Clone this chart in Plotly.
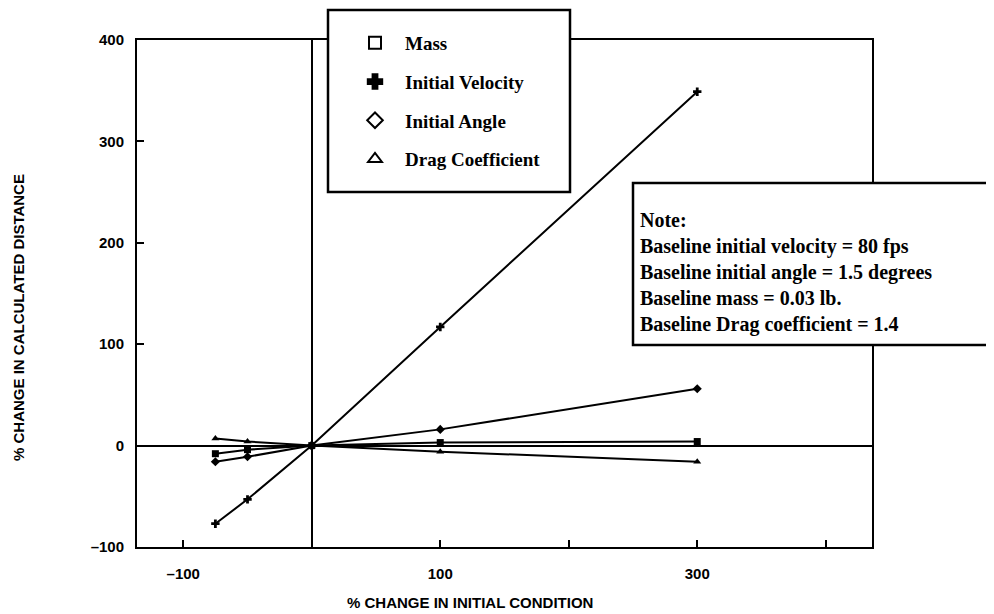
import plotly.graph_objects as go

# ---- data ----
pct_change = [-75, -50, 0, 100, 300]
mass = [-8, -4, 0, 3, 4]
initial_velocity = [-77, -53, 0, 117, 349]
initial_angle = [-16, -11, 0, 16, 56]
drag_coefficient = [7, 4, 0, -6, -16]

series_names = ["Mass", "Initial Velocity", "Initial Angle", "Drag Coefficient"]
series_values = [mass, initial_velocity, initial_angle, drag_coefficient]

x_tick_values = [-100, 0, 100, 200, 300, 400]
x_tick_labels = ["\u2013100", "", "100", "", "300", ""]
y_tick_values = [-100, 0, 100, 200, 300, 400]
y_tick_labels = ["\u2013100", "0", "100", "200", "300", "400"]

note_lines = [
    "Note:",
    "Baseline initial velocity = 80 fps",
    "Baseline initial angle = 1.5 degrees",
    "Baseline mass = 0.03 lb.",
    "Baseline Drag coefficient = 1.4",
]

# ---- styles ----
data_symbols = ["square", "cross", "diamond", "triangle-up"]
legend_symbols = ["square-open", "cross", "diamond-open", "triangle-up-open"]

OFF = 8  # page body margin
W, H = 994 - OFF, 614 - OFF
# plot area in screen pixels
SL, SR, ST, SB = 137, 872, 40, 547
L, T = SL - OFF, ST - OFF
R, B = W - (SR - OFF), H - (SB - OFF)
PW, PH = W - L - R, H - T - B


def px(xs):
    return (xs - OFF - L) / PW


def py(ys):
    return (H - B - (ys - OFF)) / PH


fig = go.Figure()

for name, vals, sym in zip(series_names, series_values, data_symbols):
    fig.add_trace(go.Scatter(
        x=pct_change, y=vals, mode="lines+markers", name=name,
        line=dict(color="black", width=2),
        marker=dict(symbol=sym, size=7, color="black"),
        showlegend=False,
    ))

for i, (name, sym) in enumerate(zip(series_names, legend_symbols)):
    fig.add_trace(go.Scatter(
        x=[None], y=[None], mode="markers", name=name,
        legendgroup="g%d" % i,
        marker=dict(symbol=sym, size=13, color="black",
                    line=dict(color="black", width=3.5)),
    ))

serif = "Liberation Serif"
sans = "Liberation Sans"

shapes = [
    # legend box
    dict(type="rect", xref="paper", yref="paper",
         x0=px(328), x1=px(570), y0=py(192), y1=py(10),
         fillcolor="white", line=dict(color="black", width=2.5), layer="above"),
    # note box
    dict(type="rect", xref="paper", yref="paper",
         x0=px(633), x1=px(1005), y0=py(345), y1=py(183),
         fillcolor="white", line=dict(color="black", width=2.5), layer="above"),
]

annotations = [dict(
    xref="paper", yref="paper", x=px(638), y=py(272),
    xanchor="left", yanchor="middle", align="left", showarrow=False,
    text="<br>".join("<b>%s</b>" % s for s in note_lines),
    font=dict(family=serif, size=20, color="black"),
)]

annotations.append(dict(
    xref="paper", yref="paper", x=px(18), y=py(318), textangle=-90,
    xanchor="center", yanchor="middle", showarrow=False,
    text="<b>% CHANGE IN CALCULATED DISTANCE</b>",
    font=dict(family=sans, size=15, color="black"),
))
annotations.append(dict(
    xref="paper", yref="paper", x=px(470), y=py(602),
    xanchor="center", yanchor="middle", showarrow=False,
    text="<b>% CHANGE IN INITIAL CONDITION</b>",
    font=dict(family=sans, size=15, color="black"),
))

fig.update_layout(
    width=W, height=H,
    margin=dict(l=L, r=R, t=T, b=B),
    paper_bgcolor="white", plot_bgcolor="white",
    showlegend=True,
    legend=dict(
        x=px(345), y=py(24), xanchor="left", yanchor="top",
        bgcolor="rgba(0,0,0,0)", borderwidth=0,
        font=dict(family=serif, size=19, color="black", weight="bold"),
        tracegroupgap=11, itemsizing="constant", itemwidth=50,
    ),
    shapes=shapes,
    annotations=annotations,
    xaxis=dict(
        range=[-136, 436], tickvals=x_tick_values, ticktext=x_tick_labels,
        showgrid=False, zeroline=True, zerolinecolor="black", zerolinewidth=2,
        showline=True, linecolor="black", linewidth=2, mirror=True,
        ticks="inside", ticklen=7, tickwidth=2, tickcolor="black",
        ticklabelstandoff=12,
        tickfont=dict(family=sans, size=15, color="black", weight="bold"),
    ),
    yaxis=dict(
        range=[-100, 400], tickvals=y_tick_values, ticktext=y_tick_labels,
        showgrid=False, zeroline=True, zerolinecolor="black", zerolinewidth=2,
        showline=True, linecolor="black", linewidth=2, mirror=True,
        ticks="inside", ticklen=7, tickwidth=2, tickcolor="black",
        ticklabelstandoff=8,
        tickfont=dict(family=sans, size=15, color="black", weight="bold"),
    ),
)

fig.write_html("out.html")
